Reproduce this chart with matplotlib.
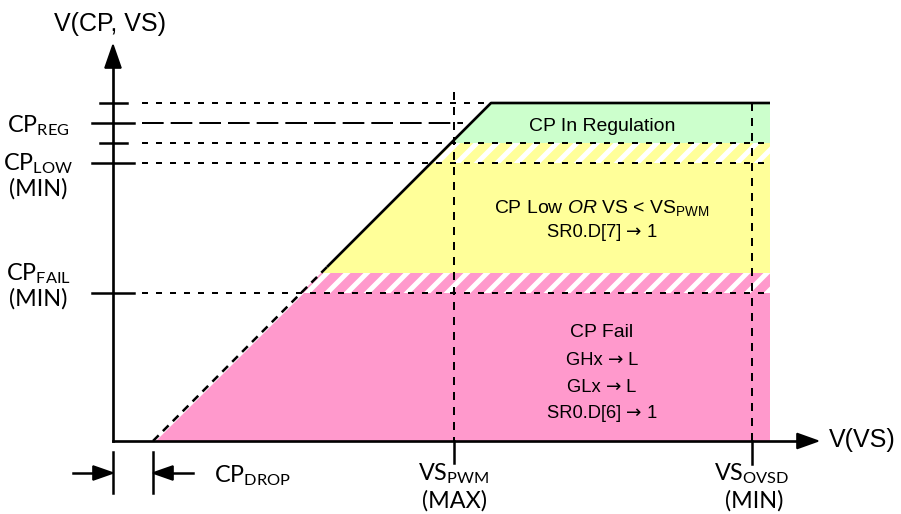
import matplotlib
matplotlib.use("Agg")
import matplotlib.pyplot as plt
from matplotlib.patches import Polygon
from matplotlib.offsetbox import TextArea, HPacker, AnnotationBbox

plt.rcParams['mathtext.fontset'] = 'custom'
plt.rcParams['mathtext.rm'] = 'Liberation Sans'
plt.rcParams['mathtext.it'] = 'Liberation Sans:italic'
plt.rcParams['lines.scale_dashes'] = False
plt.rcParams['hatch.linewidth'] = 3.0

# diagram units: origin where the axes cross, V(VS) to the right, V(CP) up
cp_drop = 4.0
vs_pwm = 34.1
vs_ovsd = 63.9
vs_end = 65.7
cp_max = 33.8
cp_reg = 31.8
cp_reg_low = 29.8
cp_low = 27.8
cp_fail_hi = 16.8
cp_fail = 14.8
diag_solid_from = 17.4   # below this V(CP) the diagonal is dashed

tick_levels = [cp_max, cp_reg, cp_reg_low, cp_low, cp_fail]
tick_long = [False, True, False, True, True]

green = '#ccffcc'
yellow = '#ffff99'
pink = '#ff99cc'

LABEL_FONT = ['Lato', 'DejaVu Sans']
BOX_FONT = ['Liberation Sans', 'DejaVu Sans']

fig = plt.figure(figsize=(901 / 120, 514 / 120), dpi=120)
ax = fig.add_axes([0, 0, 1, 1])
ax.set_xlim(-11.3, 78.8)
ax.set_ylim(-7.3, 44.1)
ax.axis('off')


def band(lo, hi, offset=0.0, **kw):
    xs = [lo + cp_drop + offset, vs_end, vs_end, hi + cp_drop + offset]
    ys = [lo, lo, hi, hi]
    ax.add_patch(Polygon(list(zip(xs, ys)), closed=True, linewidth=0, zorder=1, **kw))


def arrow_line(x, y, left, right, size=11):
    # text with a long "->" taken from DejaVu Sans, like the symbol font arrow
    parts = [TextArea(left + ' ', textprops=dict(fontsize=size, family=BOX_FONT)),
             TextArea('\u2192', textprops=dict(fontsize=size, family='DejaVu Sans')),
             TextArea(' ' + right, textprops=dict(fontsize=size, family=BOX_FONT))]
    box = HPacker(children=parts, align='baseline', pad=0, sep=0)
    ax.add_artist(AnnotationBbox(box, (x, y), frameon=False, box_alignment=(0.5, 0.5), zorder=4))


band(0, cp_fail, offset=0.3, facecolor=pink)
band(cp_fail, cp_fail_hi, facecolor=pink, edgecolor='white', hatch='//')
band(cp_fail_hi, cp_low, facecolor=yellow)
band(cp_low, cp_reg_low, facecolor=yellow, edgecolor='white', hatch='//')
band(cp_reg_low, cp_max, facecolor=green)

short = (3.6, 4.8)
# horizontal guide lines
ax.plot([2.9, cp_max + cp_drop], [cp_max, cp_max], color='k', lw=1.2, dashes=short, zorder=2)
ax.plot([2.9, cp_reg + cp_drop - 0.8], [cp_reg, cp_reg], color='k', lw=1.2, dashes=(13, 4.2), zorder=2)
for lev in [cp_reg_low, cp_low, cp_fail]:
    ax.plot([2.9, vs_end], [lev, lev], color='k', lw=1.2, dashes=short, zorder=2)

# vertical guide lines
ax.plot([vs_pwm, vs_pwm], [34.9, 0], color='k', lw=1.2, dashes=(4.8, 4.2), zorder=2)
ax.plot([vs_ovsd, vs_ovsd], [cp_max, 0], color='k', lw=1.2, dashes=(4.8, 4.2), zorder=2)
ax.plot([vs_pwm, vs_pwm], [0, -2.2], color='k', lw=1.5, zorder=3)
ax.plot([vs_ovsd, vs_ovsd], [0, -2.3], color='k', lw=1.5, zorder=3)

# V(CP) vs V(VS) curve
ax.plot([cp_drop, diag_solid_from + cp_drop], [0, diag_solid_from], color='k', lw=1.5,
        dashes=(4.8, 3.6), zorder=3)
ax.plot([diag_solid_from + cp_drop, cp_max + cp_drop, vs_end], [diag_solid_from, cp_max, cp_max],
        color='k', lw=1.6, zorder=3, solid_capstyle='butt')

# axes
ax.plot([0, 0], [0, 38.0], color='k', lw=1.6, zorder=3)
ax.plot([0, 69.0], [0, 0], color='k', lw=1.6, zorder=3)
ax.add_patch(Polygon([(-0.8, 37.3), (0.8, 37.3), (0, 39.6)], closed=True, color='k', zorder=3))
ax.add_patch(Polygon([(68.4, 0.75), (68.4, -0.75), (70.5, 0)], closed=True, color='k', zorder=3))

# y ticks
for lev, lg in zip(tick_levels, tick_long):
    h = 2.1 if lg else 1.35
    ax.plot([-h, h], [lev, lev], color='k', lw=1.5, zorder=3)

# CP drop markers
for xv in [0, cp_drop]:
    ax.plot([xv, xv], [-1.1, -5.2], color='k', lw=1.5)
ax.plot([-4.0, -1.8], [-3.2, -3.2], color='k', lw=1.5)
ax.add_patch(Polygon([(-2.0, -2.5), (-2.0, -3.9), (0, -3.2)], closed=True, color='k'))
ax.plot([cp_drop + 4.0, cp_drop + 1.8], [-3.2, -3.2], color='k', lw=1.5)
ax.add_patch(Polygon([(cp_drop + 2.0, -2.5), (cp_drop + 2.0, -3.9), (cp_drop, -3.2)], closed=True, color='k'))

# axis titles
ax.text(-0.3, 41.7, 'V(CP, VS)', fontsize=15, family=BOX_FONT, ha='center', va='center')
ax.text(71.6, 0.1, 'V(VS)', fontsize=15, family=BOX_FONT, ha='left', va='center')

# left labels
lab = dict(fontsize=14, family=LABEL_FONT, ha='center', va='baseline')
ax.text(-7.5, 30.9, r'$\mathregular{CP_{REG}}$', **lab)
ax.text(-7.5, 27.1, r'$\mathregular{CP_{LOW}}$', **lab)
ax.text(-7.5, 24.5, '(MIN)', **lab)
ax.text(-7.5, 16.1, r'$\mathregular{CP_{FAIL}}$', **lab)
ax.text(-7.5, 13.5, '(MIN)', **lab)

# bottom labels
ax.text(vs_pwm, -3.9, r'$\mathregular{VS_{PWM}}$', **lab)
ax.text(vs_pwm, -6.7, '(MAX)', **lab)
ax.text(vs_ovsd, -3.9, r'$\mathregular{VS_{OVSD}}$', **lab)
ax.text(vs_ovsd + 0.2, -6.7, '(MIN)', **lab)
ax.text(10.1, -4.1, r'$\mathregular{CP_{DROP}}$', fontsize=14, family=LABEL_FONT, ha='left', va='baseline')

# region texts
xc = 48.9
big = dict(fontsize=11.6, family=BOX_FONT, ha='center', va='baseline')
ax.text(xc, 31.0, 'CP In Regulation', **big)
ax.text(xc, 22.8, r'CP Low $\mathit{OR}$ VS < $\mathregular{VS_{PWM}}$', **big)
arrow_line(xc, 20.9, 'SR0.D[7]', '1')
ax.text(xc, 10.4, 'CP Fail', **big)
arrow_line(xc, 8.1, 'GHx', 'L')
arrow_line(xc, 5.4, 'GLx', 'L')
arrow_line(xc, 2.8, 'SR0.D[6]', '1')

fig.savefig('out.png', dpi=120)
